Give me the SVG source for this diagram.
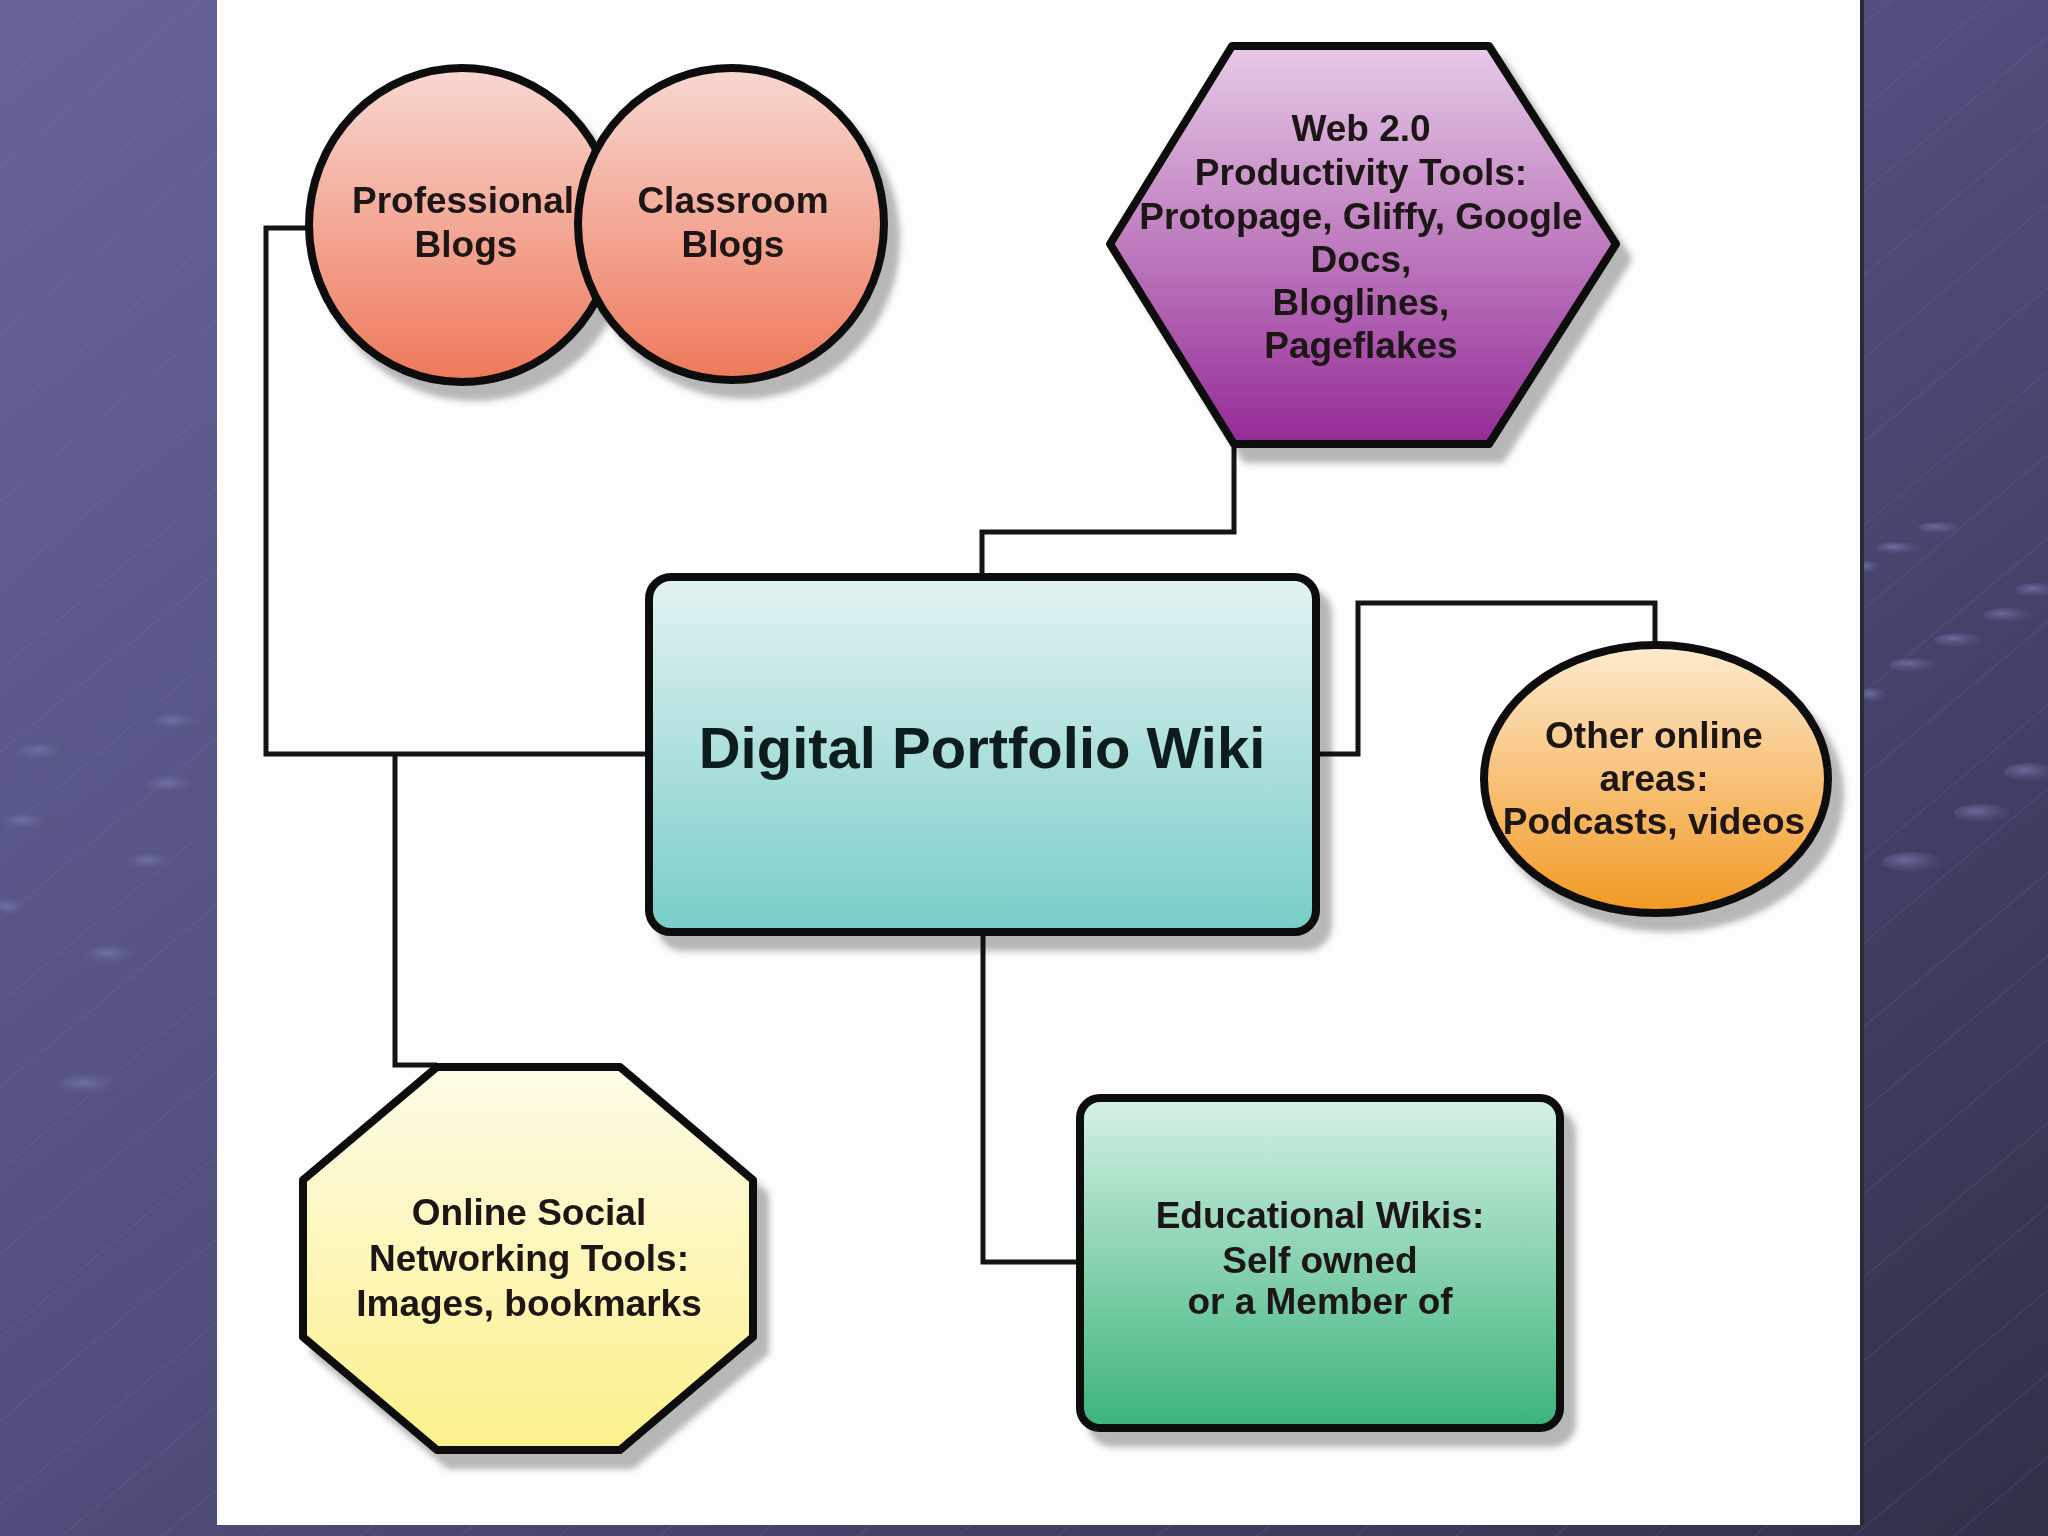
<svg xmlns="http://www.w3.org/2000/svg" width="2048" height="1536" viewBox="0 0 2048 1536">
<defs>
<linearGradient id="bg" x1="0" y1="0" x2="1" y2="1">
<stop offset="0" stop-color="#65639a"/>
<stop offset="0.5" stop-color="#4f4e7c"/>
<stop offset="1" stop-color="#30304a"/>
</linearGradient>
<pattern id="lines" width="64" height="64" patternUnits="userSpaceOnUse" patternTransform="rotate(-40)">
<line x1="0" y1="0" x2="64" y2="0" stroke="#8a8ac0" stroke-width="1" opacity="0.35"/>
</pattern>
<radialGradient id="bokeh" cx="0.4" cy="0.4" r="0.6">
<stop offset="0" stop-color="#7a7ab0" stop-opacity="0.75"/>
<stop offset="1" stop-color="#50507e" stop-opacity="0.2"/>
</radialGradient>
<linearGradient id="gRed" x1="0" y1="0" x2="0" y2="1">
<stop offset="0" stop-color="#f8d8d2"/>
<stop offset="1" stop-color="#ee785a"/>
</linearGradient>
<linearGradient id="gPurple" x1="0" y1="0" x2="0" y2="1">
<stop offset="0" stop-color="#e6cbe6"/>
<stop offset="1" stop-color="#952b97"/>
</linearGradient>
<linearGradient id="gTeal" x1="0" y1="0" x2="0" y2="1">
<stop offset="0" stop-color="#e3f3f3"/>
<stop offset="1" stop-color="#78cdc7"/>
</linearGradient>
<linearGradient id="gOrange" x1="0" y1="0" x2="0" y2="1">
<stop offset="0" stop-color="#fdebd0"/>
<stop offset="1" stop-color="#f39822"/>
</linearGradient>
<linearGradient id="gYellow" x1="0" y1="0" x2="0" y2="1">
<stop offset="0" stop-color="#fefce8"/>
<stop offset="1" stop-color="#fbf08a"/>
</linearGradient>
<linearGradient id="gGreen" x1="0" y1="0" x2="0" y2="1">
<stop offset="0" stop-color="#d5f1e3"/>
<stop offset="1" stop-color="#3bb47b"/>
</linearGradient>
<filter id="shadow" x="-10%" y="-10%" width="130%" height="130%">
<feGaussianBlur in="SourceAlpha" stdDeviation="3"/>
<feOffset dx="12" dy="15" result="b"/>
<feFlood flood-color="#000" flood-opacity="0.28"/>
<feComposite in2="b" operator="in" result="s"/>
<feMerge><feMergeNode in="s"/><feMergeNode in="SourceGraphic"/></feMerge>
</filter>
</defs>
<style>
.shape{stroke:#0a0a0a;stroke-width:8;stroke-linejoin:round}
.lbl{font-family:"Liberation Sans",Arial,sans-serif;font-weight:bold;font-size:37px;fill:#1c1414;text-anchor:middle}
.big{font-size:58px;fill:#0c1a1a}
.conn{fill:none;stroke:#141414;stroke-width:5;stroke-linejoin:miter}
</style>
<g id="background">
<rect x="0" y="0" width="2048" height="1536" fill="url(#bg)"/>
<rect x="0" y="0" width="2048" height="1536" fill="url(#lines)"/>
<g fill="url(#bokeh)">
<ellipse cx="43" cy="752" rx="26" ry="9"/>
<ellipse cx="178" cy="722" rx="26" ry="9"/>
<ellipse cx="173" cy="785" rx="26" ry="9"/>
<ellipse cx="28" cy="822" rx="26" ry="9"/>
<ellipse cx="153" cy="862" rx="26" ry="9"/>
<ellipse cx="10" cy="908" rx="22" ry="9"/>
<ellipse cx="113" cy="955" rx="28" ry="10"/>
<ellipse cx="90" cy="1085" rx="34" ry="11"/>
<ellipse cx="1940" cy="528" rx="22" ry="6"/>
<ellipse cx="1898" cy="548" rx="22" ry="6"/>
<ellipse cx="1868" cy="567" rx="12" ry="6"/>
<ellipse cx="2037" cy="590" rx="22" ry="7"/>
<ellipse cx="2007" cy="615" rx="24" ry="7"/>
<ellipse cx="1958" cy="640" rx="24" ry="7"/>
<ellipse cx="1913" cy="665" rx="24" ry="7"/>
<ellipse cx="1873" cy="695" rx="14" ry="7"/>
<ellipse cx="2030" cy="772" rx="26" ry="9"/>
<ellipse cx="1982" cy="813" rx="28" ry="9"/>
<ellipse cx="1912" cy="862" rx="30" ry="10"/>
</g>
</g>
<g id="panel">
<rect x="217" y="0" width="1643" height="1525" fill="#fdfdfd"/>
<rect x="1860" y="0" width="4" height="1525" fill="#2a2a38"/>
</g>
<g id="connectors">
<polyline class="conn" points="306,228 266,228 266,754 649,754"/>
<polyline class="conn" points="395,754 395,1065 437,1065"/>
<polyline class="conn" points="1234,444 1234,532 982,532 982,576"/>
<polyline class="conn" points="1315,754 1358,754 1358,603 1655,603 1655,647"/>
<polyline class="conn" points="983,934 983,1262 1080,1262"/>
</g>
<g id="node-professional-blogs" filter="url(#shadow)">
<ellipse class="shape" cx="462" cy="225" rx="153" ry="157" fill="url(#gRed)"/>
<text class="lbl" x="463" y="213">Professional</text>
<text class="lbl" x="466" y="257">Blogs</text>
</g>
<g id="node-classroom-blogs" filter="url(#shadow)">
<ellipse class="shape" cx="731" cy="224" rx="153" ry="156" fill="url(#gRed)"/>
<text class="lbl" x="733" y="213">Classroom</text>
<text class="lbl" x="733" y="257">Blogs</text>
</g>
<g id="node-web20" filter="url(#shadow)">
<polygon class="shape" points="1110,244 1232,46 1489,46 1616,244 1489,444 1234,444" fill="url(#gPurple)"/>
<text class="lbl" x="1361" y="141">Web 2.0</text>
<text class="lbl" x="1361" y="185">Productivity Tools:</text>
<text class="lbl" x="1361" y="229">Protopage, Gliffy, Google</text>
<text class="lbl" x="1361" y="272">Docs,</text>
<text class="lbl" x="1361" y="315">Bloglines,</text>
<text class="lbl" x="1361" y="358">Pageflakes</text>
</g>
<g id="node-digital-portfolio-wiki" filter="url(#shadow)">
<rect class="shape" x="649" y="577" width="667" height="355" rx="22" ry="22" fill="url(#gTeal)"/>
<text class="lbl big" x="982" y="768">Digital Portfolio Wiki</text>
</g>
<g id="node-other-online" filter="url(#shadow)">
<ellipse class="shape" cx="1656" cy="779" rx="172" ry="134" fill="url(#gOrange)"/>
<text class="lbl" x="1654" y="748">Other online</text>
<text class="lbl" x="1654" y="791">areas:</text>
<text class="lbl" x="1654" y="834">Podcasts, videos</text>
</g>
<g id="node-social-networking" filter="url(#shadow)">
<polygon class="shape" points="437,1067 620,1067 753,1180 753,1337 620,1450 437,1450 303,1337 303,1180" fill="url(#gYellow)"/>
<text class="lbl" x="529" y="1225">Online Social</text>
<text class="lbl" x="529" y="1271">Networking Tools:</text>
<text class="lbl" x="529" y="1316">Images, bookmarks</text>
</g>
<g id="node-educational-wikis" filter="url(#shadow)">
<rect class="shape" x="1080" y="1098" width="480" height="330" rx="20" ry="20" fill="url(#gGreen)"/>
<text class="lbl" x="1320" y="1228">Educational Wikis:</text>
<text class="lbl" x="1320" y="1273">Self owned</text>
<text class="lbl" x="1320" y="1314">or a Member of</text>
</g>
</svg>
